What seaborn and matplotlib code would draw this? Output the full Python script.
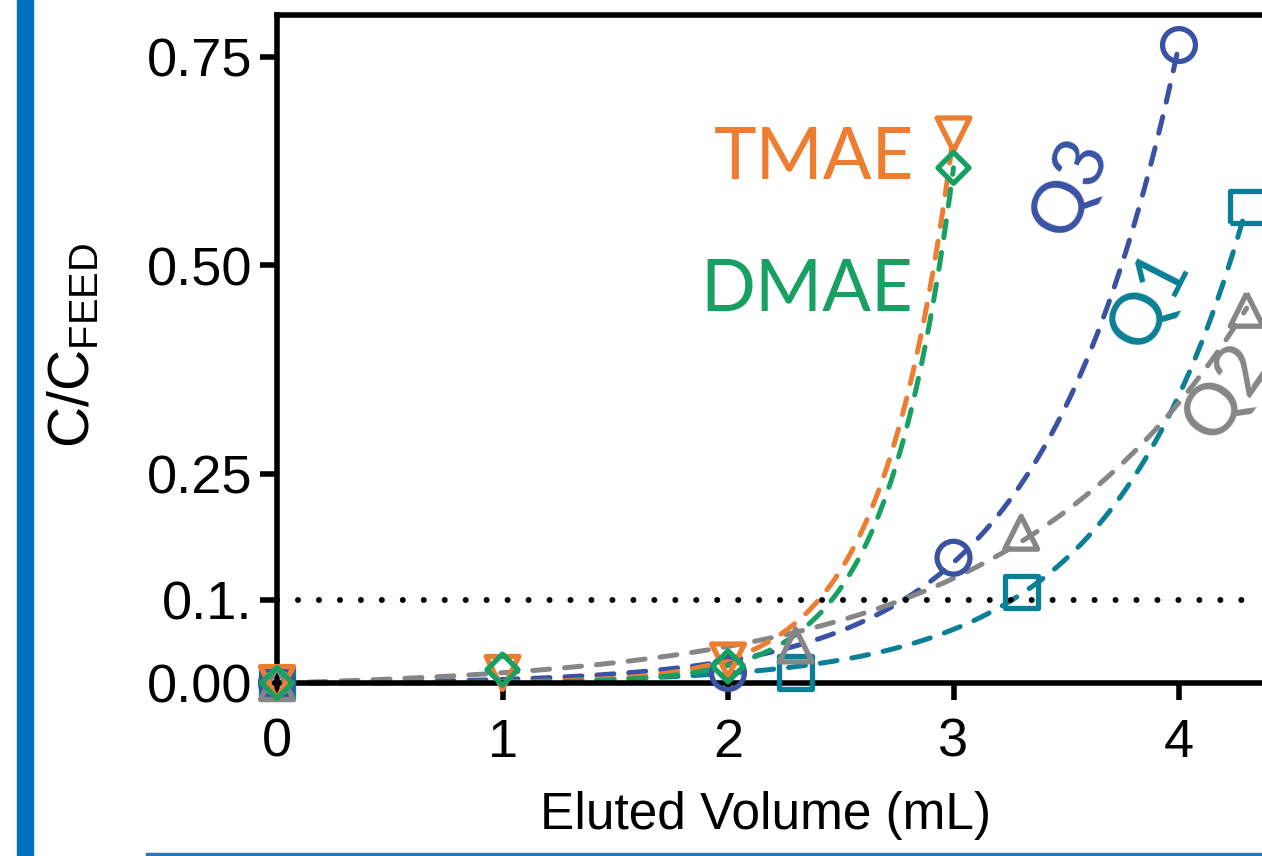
import numpy as np
import seaborn as sns
import matplotlib.pyplot as plt
from matplotlib.patches import Rectangle

# Data
tmae_x = [0, 1, 2, 3]
tmae_y = [0.0, 0.012, 0.027, 0.657]
dmae_x = [0, 1, 2, 3]
dmae_y = [0.0, 0.016, 0.020, 0.617]
q3_x = [0, 2, 3, 4]
q3_y = [0.0, 0.012, 0.150, 0.764]
q1_x = [0, 2.3, 3.3, 4.3]
q1_y = [0.0, 0.013, 0.109, 0.570]
q2_x = [0, 2.3, 3.3, 4.3]
q2_y = [0.0, 0.045, 0.180, 0.447]

y_ticks = [0.0, 0.1, 0.25, 0.5, 0.75]
y_ticklabels = ["0.00", "0.1.", "0.25", "0.50", "0.75"]
x_ticks = [0, 1, 2, 3, 4]

c_tmae = "#ED7D31"
c_dmae = "#17A062"
c_q3 = "#3A52A4"
c_q1 = "#0B7F95"
c_q2 = "#868686"

sns.set_style("ticks")
plt.rcParams["font.family"] = ["Liberation Sans", "DejaVu Sans"]
plt.rcParams["mathtext.fontset"] = "custom"
plt.rcParams["mathtext.rm"] = "Liberation Sans"
plt.rcParams["mathtext.sf"] = "Liberation Sans"
for key in ["text.color", "axes.labelcolor", "xtick.color", "ytick.color"]:
    plt.rcParams[key] = "black"


def exp_fit(x, y):
    # y = A * (exp(k x) - 1), least squares over a grid of k
    x = np.asarray(x, float)
    y = np.asarray(y, float)
    best = None
    for k in np.linspace(0.3, 4.0, 800):
        g = np.exp(k * x) - 1
        a = (g @ y) / (g @ g)
        sse = ((a * g - y) ** 2).sum()
        if best is None or sse < best[0]:
            best = (sse, a, k)
    xf = np.linspace(0, x.max(), 200)
    return xf, best[1] * (np.exp(best[2] * xf) - 1)


fig = plt.figure(figsize=(12.62, 8.56), dpi=100)
ax = fig.add_axes([277 / 1262, (856 - 683) / 856, (1262 - 277) / 1262, (683 - 15) / 856])

series = [
    (q1_x, q1_y, c_q1, "s", 560),
    (q3_x, q3_y, c_q3, "o", 560),
    (q2_x, q2_y, c_q2, "^", 560),
    (tmae_x, tmae_y, c_tmae, "v", 560),
    (dmae_x, dmae_y, c_dmae, "D", 250),
]

for xs, ys, col, mk, size in series:
    xf, yf = exp_fit(xs, ys)
    sns.lineplot(x=xf, y=yf, ax=ax, color=col, linewidth=3.6,
                 linestyle=(0, (3.4, 3.0)), dash_capstyle="round", clip_on=False)
    sns.scatterplot(x=xs, y=ys, ax=ax, marker=mk, s=size, facecolor="none",
                    edgecolor=col, linewidth=3.8, clip_on=False, zorder=3)

# 10% breakthrough line
ax.axhline(0.1, color="black", linewidth=4.3, linestyle=(0, (0.01, 3.5)),
           dash_capstyle="round")

ax.set_xlim(0, (1262 - 277) / 225.5)
ax.set_ylim(0, 0.8)
ax.set_xticks(x_ticks)
ax.set_xticklabels([str(v) for v in x_ticks])
ax.set_yticks(y_ticks)
ax.set_yticklabels(y_ticklabels)
ax.tick_params(labelsize=39, width=4, length=12, color="black")
ax.tick_params(axis="y", pad=6)
ax.tick_params(axis="x", pad=13)
for side in ["left", "bottom", "top"]:
    ax.spines[side].set_linewidth(4)
    ax.spines[side].set_color("black")
ax.spines["right"].set_visible(False)

ax.set_xlabel("Eluted Volume (mL)", fontsize=37)
ax.xaxis.set_label_coords(0.496, -0.161)
ax.set_ylabel(r"C/C$_{\mathrm{FEED}}$", fontsize=41)
ax.yaxis.set_label_coords(-0.178, 0.506)

# curve labels
lab = dict(family=["Lato", "DejaVu Sans"], fontsize=52, clip_on=False)
ax.text(2.38, 0.603, "TMAE", color=c_tmae, ha="center", va="baseline", **lab)
ax.text(2.35, 0.445, "DMAE", color=c_dmae, ha="center", va="baseline", **lab)
ax.text(3.517, 0.594, "Q3", color=c_q3, ha="center", va="center", rotation=66,
        rotation_mode="anchor", **lab)
ax.text(3.87, 0.459, "Q1", color=c_q1, ha="center", va="center", rotation=63,
        rotation_mode="anchor", **lab)
ax.text(4.21, 0.348, "Q2", color=c_q2, ha="center", va="center", rotation=55,
        rotation_mode="anchor", **lab)

# slide decorations
fig.patches.append(Rectangle((17 / 1262, 0), 16 / 1262, 1, transform=fig.transFigure,
                             color="#0070C0", zorder=0))
fig.patches.append(Rectangle((146 / 1262, 0), 1, 3 / 856, transform=fig.transFigure,
                             color="#2E75B6", zorder=0))

plt.savefig("out.png", dpi=100)
